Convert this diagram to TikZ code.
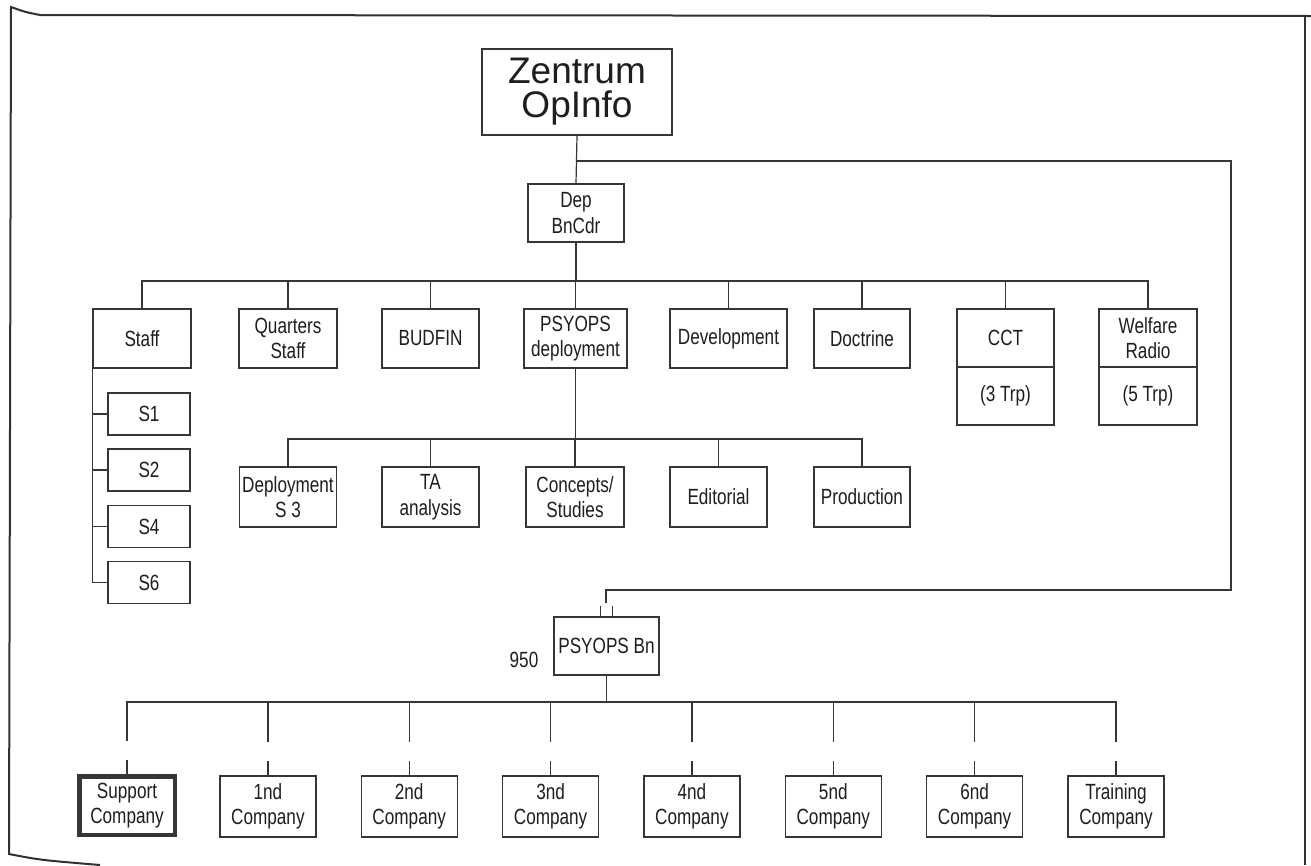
\documentclass[tikz,border=0pt]{standalone}
\usepackage{fontspec}
\setmainfont{Liberation Sans}
\newfontfamily\condfont[FakeStretch=0.78]{Liberation Sans}
\definecolor{ink}{HTML}{363636}
\definecolor{txtc}{HTML}{1E1E1E}
\newcommand\fsmall{\condfont\fontsize{22}{25.5}\selectfont}
\newcommand\fbig{\fontsize{37}{34}\selectfont}
\tikzset{
  box/.style={draw=ink, line width=1.2pt, fill=white, minimum width=97pt, minimum height=59pt,
              inner sep=1pt, align=center, font=\fsmall, text=txtc},
  sbox/.style={box, minimum width=82pt, minimum height=42pt},
  cbox/.style={box, minimum width=96pt, minimum height=61pt},
  thickbox/.style={cbox, line width=4.5pt, minimum width=95.5pt, minimum height=58.5pt},
  txt/.style={inner sep=0pt, align=center, font=\fsmall, text=txtc},
  link/.style={draw=ink, line width=1.2pt},
  frame/.style={draw=ink!90!black, line width=2pt}
}
\begin{document}
\begin{tikzpicture}[x=1pt,y=-1pt]
\fill[white] (0,0) rectangle (1311,865);
\useasboundingbox (0,0) rectangle (1311,865);

% outer frame
\draw[frame] (1311,16) -- (40,15) .. controls (25,12) .. (11,7) -- (9,854) .. controls (40,860) .. (100,865);
\draw[frame] (1305,16) -- (1305,865);

% top
\node[box, minimum width=190pt, minimum height=86pt, font=\fbig] (zen) at (577,92) {Zentrum\\OpInfo};
\node[box, minimum width=96pt, minimum height=58pt] (dep) at (576,213) {Dep\\BnCdr};
\draw[link] (zen.south) -- (dep.north);

% first row
\node[box, minimum width=98pt] (staff) at (142,338.5) {Staff};
\node[box, minimum width=98pt] (quarters) at (288,338.5) {Quarters\\Staff};
\node[box] (budfin) at (430.5,338.5) {BUDFIN};
\node[box, minimum width=103pt] (psydep) at (575.5,338.5) {PSYOPS\\deployment};
\node[box, minimum width=117pt] (devel) at (728.5,338.5) {Development};
\node[box, minimum width=96pt] (doctrine) at (862,338.5) {Doctrine};
\node[box, minimum height=116pt] (cct) at (1005.5,367) {};
\node[box, minimum width=98pt, minimum height=116pt] (welfare) at (1148,367) {};
\draw[link] (cct.west) -- (cct.east);
\draw[link] (welfare.west) -- (welfare.east);
\node[txt] (cctt) at (1005.5,338) {CCT};
\node[txt] (cctb) at (1005.5,396) {(3 Trp)};
\node[txt] (welt) at (1148,338) {Welfare\\Radio};
\node[txt] (welb) at (1148,396) {(5 Trp)};

\coordinate (bus1) at (0,281);
\foreach \n in {staff,quarters,budfin,psydep,devel,doctrine,cct,welfare}
  \draw[link] (dep.south) -- (dep.south |- bus1) -| (\n.north);

% staff sections
\node[sbox] (s1) at (149,414) {S1};
\node[sbox] (s2) at (149,470) {S2};
\node[sbox] (s4) at (149,526.5) {S4};
\node[sbox] (s6) at (149,582.5) {S6};
\foreach \n in {s1,s2,s4,s6}
  \draw[link] (staff.south west) |- (\n.west);

% second row
\node[box, minimum height=60pt] (deps3) at (288,497) {Deployment\\S 3};
\node[box, minimum height=60pt] (ta) at (430.5,497) {TA\\analysis};
\node[box, minimum width=98pt, minimum height=60pt] (concepts) at (575,497) {Concepts/\\Studies};
\node[box, minimum height=60pt] (editorial) at (718.5,497) {Editorial};
\node[box, minimum width=96pt, minimum height=60pt] (production) at (862,497) {Production};
\coordinate (bus2) at (0,439);
\foreach \n in {deps3,ta,concepts,editorial,production}
  \draw[link] (psydep.south) -- (psydep.south |- bus2) -| (\n.north);

% battalion
\node[box, minimum width=105pt, minimum height=58pt] (bn) at (606.5,646) {PSYOPS Bn};
\node[txt] (num) at (524,660) {950};
\coordinate (rc1) at (1231,161);
\coordinate (rc2) at (1231,590);
\coordinate (bnin) at (606,603);
\draw[link] (zen.south |- rc1) -- (rc1) -- (rc2) -| (bnin);
\draw[link] ([xshift=-6pt]bn.north) -- ++(0,-10);
\draw[link] ([xshift=6pt]bn.north) -- ++(0,-10);

% companies
\node[thickbox] (sup) at (127,805.5) {Support\\Company};
\node[cbox] (c1) at (267.9,806.5) {1nd\\Company};
\node[cbox] (c2) at (409.2,806.5) {2nd\\Company};
\node[cbox] (c3) at (550.6,806.5) {3nd\\Company};
\node[cbox] (c4) at (691.9,806.5) {4nd\\Company};
\node[cbox] (c5) at (833.3,806.5) {5nd\\Company};
\node[cbox] (c6) at (974.6,806.5) {6nd\\Company};
\node[cbox] (trn) at (1116,806.5) {Training\\Company};
\coordinate (bus3) at (0,702);
\foreach \n in {sup,c1,c2,c3,c4,c5,c6,trn}{
  \draw[link] (bn.south) -- (bn.south |- bus3) -| ([yshift=33pt]\n.north);
  \draw[link] ([yshift=14pt]\n.north) -- (\n.north);
}
\end{tikzpicture}
\end{document}
